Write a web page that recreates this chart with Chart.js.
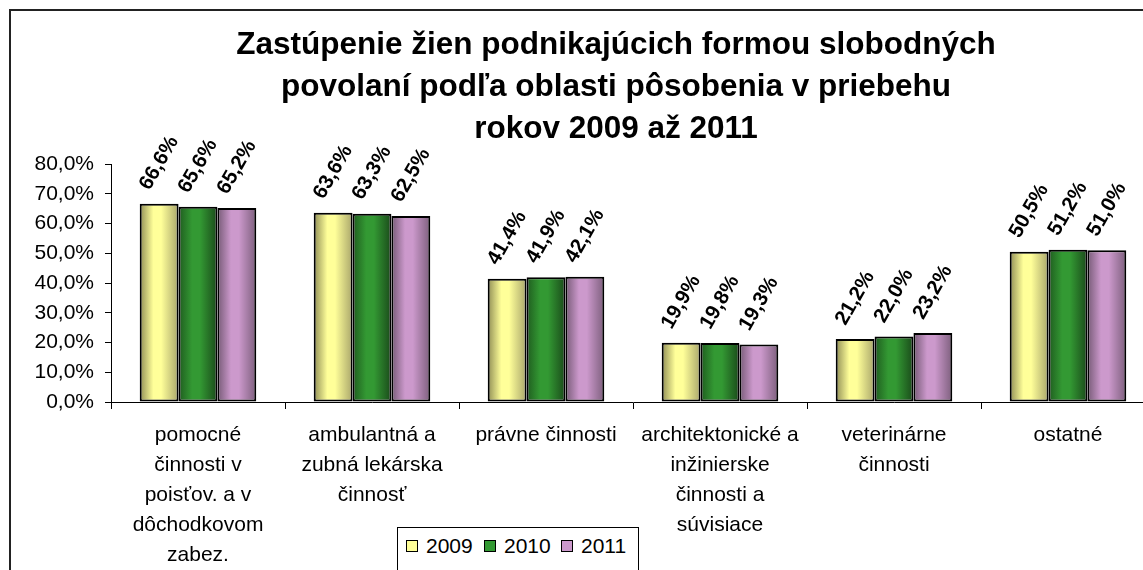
<!DOCTYPE html>
<html>
<head>
<meta charset="utf-8">
<script src="https://cdn.jsdelivr.net/npm/chart.js@4"></script>
<style>
  html, body { margin: 0; padding: 0; background: #fff; overflow: hidden; }
  #wrap { position: relative; width: 1143px; height: 570px; overflow: hidden; }
  #frame { position: absolute; left: 9px; top: 9px; width: 2000px; height: 2000px;
           border-left: 2px solid #222; border-top: 2px solid #222; }
  #chart { position: absolute; left: 0; top: 0; }
  #legend { position: absolute; left: 397px; top: 527px; width: 240px; height: 100px;
            border: 1px solid #000; background: #fff;
            font-family: "Liberation Sans", Arial, sans-serif; font-size: 21px; color: #000; }
  #legend span.item { position: absolute; top: 6px; white-space: nowrap; }
  #legend span.box { display: inline-block; width: 10px; height: 10px; border: 1px solid #000;
                     margin-right: 8px; vertical-align: 1px; }
</style>
</head>
<body>
<div id="wrap">
  <div id="frame"></div>
  <canvas id="chart" width="1232" height="570"></canvas>
  <div id="legend"></div>
</div>
<script>
const categories = [
  ["pomocné", "činnosti v", "poisťov. a v", "dôchodkovom", "zabez."],
  ["ambulantná a", "zubná lekárska", "činnosť"],
  ["právne činnosti"],
  ["architektonické a", "inžinierske", "činnosti a", "súvisiace"],
  ["veterinárne", "činnosti"],
  ["ostatné"]
];
const years = ["2009", "2010", "2011"];
const values2009 = [66.6, 63.6, 41.4, 19.9, 21.2, 50.5];
const values2010 = [65.6, 63.3, 41.9, 19.8, 22.0, 51.2];
const values2011 = [65.2, 62.5, 42.1, 19.3, 23.2, 51.0];
const yTicks = [0, 10, 20, 30, 40, 50, 60, 70, 80];

const titleLines = [
  "Zastúpenie žien podnikajúcich formou slobodných",
  "povolaní podľa oblasti pôsobenia v priebehu",
  "rokov 2009 až 2011"
];

// base colour + shading (dark edge, light middle, dark edge)
const colors = ["#ffff99", "#339933", "#cc99cc"];
const shades = [
  ["#8f8d55", "#ffff99", "#ffff99", "#a9a66b"],
  ["#1f5c1f", "#339933", "#339933", "#1a4a1a"],
  ["#765a76", "#cc99cc", "#cc99cc", "#7d5f7d"]
];

const fontFamily = '"Liberation Sans", Arial, sans-serif';

function pct(v) {
  return v.toFixed(1).replace('.', ',') + '%';
}

// cylinder-like shading on each bar
const shadePlugin = {
  id: 'shade',
  beforeDatasetDraw(chart, args) {
    const ctx = chart.ctx;
    const s = shades[args.index];
    args.meta.data.forEach(el => {
      const g = ctx.createLinearGradient(el.x - el.width / 2, 0, el.x + el.width / 2, 0);
      g.addColorStop(0, s[0]);
      g.addColorStop(0.35, s[1]);
      g.addColorStop(0.55, s[2]);
      g.addColorStop(1, s[3]);
      el.options.backgroundColor = g;
    });
  }
};

// rotated value labels above bars
const labelPlugin = {
  id: 'valueLabels',
  afterDatasetsDraw(chart) {
    const ctx = chart.ctx;
    const ang = 60 * Math.PI / 180;
    ctx.save();
    ctx.font = 'bold 20.5px ' + fontFamily;
    ctx.fillStyle = '#000';
    ctx.textAlign = 'center';
    ctx.textBaseline = 'middle';
    chart.data.datasets.forEach((ds, i) => {
      chart.getDatasetMeta(i).data.forEach((el, j) => {
        const txt = pct(ds.data[j]);
        const w = ctx.measureText(txt).width;
        const h = 14.6;
        const half = (w * Math.sin(ang) + h * Math.cos(ang)) / 2;
        ctx.save();
        ctx.translate(el.x, el.y - 12 - half);
        ctx.rotate(-ang);
        ctx.fillText(txt, 0, 0);
        ctx.restore();
      });
    });
    ctx.restore();
  }
};

const dataSeries = [values2009, values2010, values2011];

const ctx = document.getElementById('chart').getContext('2d');
const chart = new Chart(ctx, {
  type: 'bar',
  data: {
    labels: categories,
    datasets: years.map((y, i) => ({
      label: y,
      data: dataSeries[i],
      // scriptable so every bar gets its own options object
      backgroundColor: () => colors[i],
      borderColor: '#000',
      borderWidth: 2,
      borderSkipped: false,
      categoryPercentage: 0.67,
      barPercentage: 1.0
    }))
  },
  options: {
    responsive: false,
    animation: false,
    layout: { padding: 0 },
    plugins: {
      legend: { display: false },
      tooltip: { enabled: false },
      title: {
        display: true,
        text: titleLines,
        color: '#000',
        font: { family: fontFamily, size: 31.5, weight: 'bold', lineHeight: 42 / 31.5 },
        padding: { top: 24, bottom: 14 }
      }
    },
    scales: {
      x: {
        grid: { offset: true, drawOnChartArea: false, tickLength: 7, color: '#000' },
        border: { color: '#000', width: 1 },
        ticks: {
          color: '#000',
          padding: 11,
          maxRotation: 0,
          autoSkip: false,
          font: { family: fontFamily, size: 21, lineHeight: 30 / 21 }
        },
        afterFit: s => { s.height = 168; }
      },
      y: {
        min: 0,
        max: 80,
        afterBuildTicks: s => { s.ticks = yTicks.map(v => ({ value: v })); },
        grid: { drawOnChartArea: false, tickLength: 6, color: '#000' },
        border: { color: '#000', width: 1 },
        ticks: {
          color: '#000',
          padding: 11,
          font: { family: fontFamily, size: 21 },
          callback: v => pct(v)
        },
        afterFit: s => { s.width = 111; }
      },
      yR: {
        position: 'right',
        display: true,
        grid: { display: false },
        border: { display: false },
        ticks: { display: false },
        afterFit: s => { s.width = 77; }
      }
    }
  },
  plugins: [shadePlugin, labelPlugin]
});

// legend in a framed box, built from the same series names
const legend = document.getElementById('legend');
const itemLeft = [8, 86, 163];
years.forEach((y, i) => {
  const item = document.createElement('span');
  item.className = 'item';
  item.style.left = itemLeft[i] + 'px';
  const box = document.createElement('span');
  box.className = 'box';
  box.style.background = colors[i];
  item.appendChild(box);
  item.appendChild(document.createTextNode(y));
  legend.appendChild(item);
});
</script>
</body>
</html>
